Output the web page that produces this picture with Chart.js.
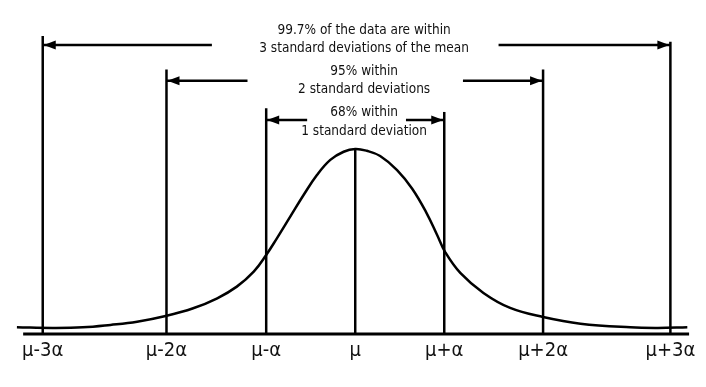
<!DOCTYPE html>
<html>
<head>
<meta charset="utf-8">
<script src="https://cdn.jsdelivr.net/npm/chart.js@4.4.0/dist/chart.umd.min.js"></script>
<style>
  body { margin: 0; background: #fff; }
  #wrap { width: 706px; height: 387px; }
</style>
</head>
<body>
<div id="wrap"><canvas id="bell"></canvas></div>
<script>
// Bell curve (x in sigma-ish units, y relative to the peak)
const curveX = [-3.80, -3.40, -3.06, -2.75, -2.45, -2.13, -1.82, -1.55, -1.33, -1.14, -1.00, -0.88, -0.73, -0.58, -0.43, -0.28, -0.13, 0,
                0.13, 0.28, 0.47, 0.64, 0.80, 0.92, 1.01, 1.18, 1.44, 1.74, 2.11, 2.53, 3.09, 3.40, 3.73];
const curveY = [0.037, 0.033, 0.036, 0.049, 0.066, 0.097, 0.139, 0.193, 0.256, 0.337, 0.427, 0.517, 0.634, 0.751, 0.859, 0.941, 0.985, 1.0,
                0.990, 0.962, 0.886, 0.785, 0.655, 0.535, 0.443, 0.330, 0.222, 0.141, 0.092, 0.056, 0.036, 0.033, 0.037];

// Vertical markers and their tick labels
const sigmaX = [-3.51, -2.12, -1.0, 0, 1.0, 2.11, 3.54];
const sigmaTop = [1.61, 1.43, 1.22, 1.0, 1.20, 1.43, 1.58];
const tickLabels = ["μ-3α", "μ-2α", "μ-α", "μ", "μ+α", "μ+2α", "μ+3α"];

// Baseline
const axisX = [-3.73, 3.75];

// Arrows: [start, end] in x, one height each
const arrowFrom = [-1.61, 1.61, -1.21, 1.21, -0.54, 0.57];
const arrowTo = [-3.51, 3.54, -2.12, 2.11, -1.0, 1.0];
const arrowY = [1.562, 1.562, 1.368, 1.368, 1.157, 1.157];

// Notes above the curve
const noteText = ["99.7% of the data are within", "3 standard deviations of the mean",
                  "95% within", "2 standard deviations",
                  "68% within", "1 standard deviation"];
const noteY = [1.638, 1.541, 1.416, 1.324, 1.195, 1.097];
const noteX = 0.1;

const FONT = "'DejaVu Sans Condensed', 'DejaVu Sans', sans-serif";

const datasets = [];
datasets.push({
  data: curveX.map((x, i) => ({ x: x, y: curveY[i] })),
  borderColor: "#000", borderWidth: 2.5, pointRadius: 0,
  tension: 0.4, clip: false
});
datasets.push({
  data: axisX.map(x => ({ x: x, y: 0 })),
  borderColor: "#000", borderWidth: 3, pointRadius: 0, clip: false
});
sigmaX.forEach((x, i) => {
  datasets.push({
    data: [{ x: x, y: 0 }, { x: x, y: sigmaTop[i] }],
    borderColor: "#000", borderWidth: 2.5, pointRadius: 0, clip: false
  });
});
arrowFrom.forEach((x, i) => {
  datasets.push({
    data: [{ x: x, y: arrowY[i] }, { x: arrowTo[i], y: arrowY[i] }],
    borderColor: "#000", borderWidth: 2.5, pointRadius: 0, clip: false,
    arrow: true
  });
});

// draws a filled head at the end of every arrow dataset
const arrowHeads = {
  id: "arrowHeads",
  afterDatasetsDraw(chart) {
    const ctx = chart.ctx;
    chart.data.datasets.forEach((ds, i) => {
      if (!ds.arrow) return;
      const pts = chart.getDatasetMeta(i).data;
      const a = pts[0], b = pts[pts.length - 1];
      const dir = b.x > a.x ? 1 : -1;
      ctx.save();
      ctx.fillStyle = "#000";
      ctx.beginPath();
      ctx.moveTo(b.x - dir * 1, b.y);
      ctx.lineTo(b.x - dir * 13, b.y - 4.5);
      ctx.lineTo(b.x - dir * 13, b.y + 4.5);
      ctx.closePath();
      ctx.fill();
      ctx.restore();
    });
  }
};

const notes = {
  id: "notes",
  afterDraw(chart) {
    const ctx = chart.ctx;
    const xs = chart.scales.x, ys = chart.scales.y;
    ctx.save();
    ctx.fillStyle = "#111";
    ctx.font = "13.5px " + FONT;
    ctx.textAlign = "center";
    ctx.textBaseline = "middle";
    noteText.forEach((t, i) => {
      ctx.fillText(t, xs.getPixelForValue(noteX), ys.getPixelForValue(noteY[i]));
    });
    ctx.restore();
  }
};

new Chart(document.getElementById("bell"), {
  type: "line",
  data: { datasets: datasets },
  plugins: [arrowHeads, notes],
  options: {
    responsive: true,
    maintainAspectRatio: false,
    animation: false,
    layout: { padding: 0 },
    plugins: { legend: { display: false }, tooltip: { enabled: false } },
    scales: {
      x: {
        type: "linear",
        min: -3.99,
        max: 3.94,
        grid: { display: false },
        border: { display: false },
        afterBuildTicks(scale) {
          scale.ticks = sigmaX.map(v => ({ value: v }));
        },
        afterFit(scale) {
          scale.height = 53;
        },
        ticks: {
          autoSkip: false,
          maxRotation: 0,
          padding: -3,
          color: "#111",
          font: { family: FONT, size: 20 },
          callback: (value, index) => tickLabels[index]
        }
      },
      y: {
        display: false,
        min: 0,
        max: 1.805
      }
    }
  }
});
</script>
</body>
</html>
